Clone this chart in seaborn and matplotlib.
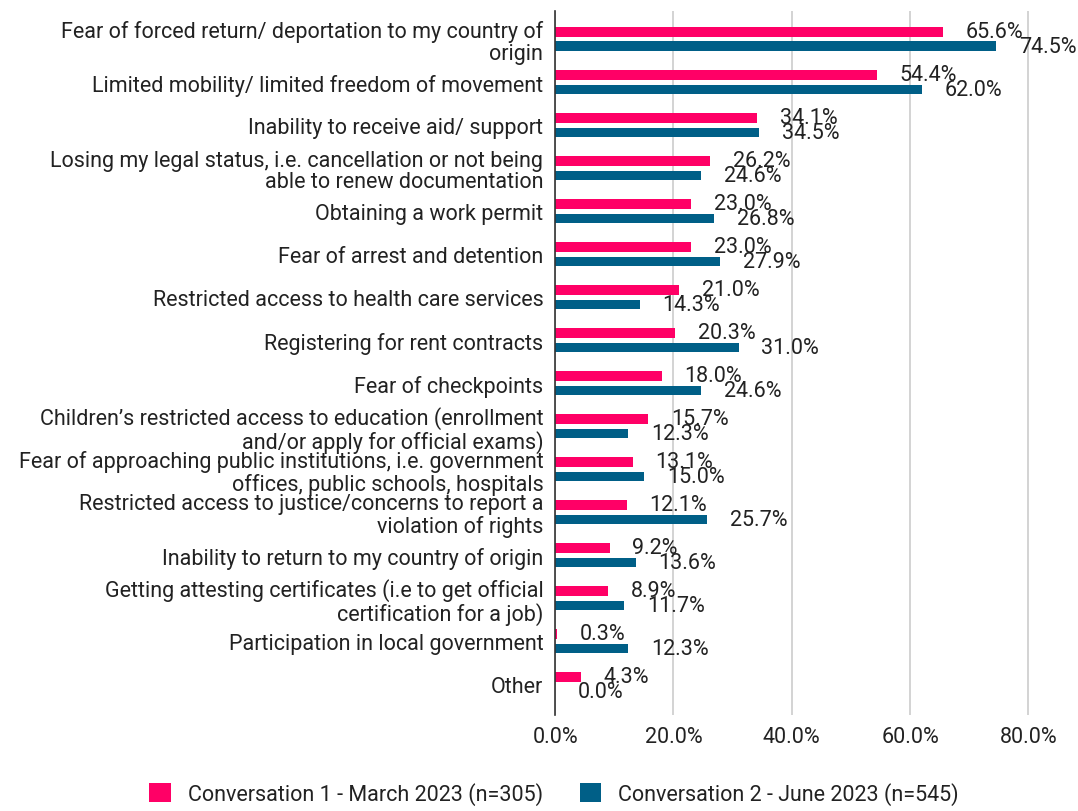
import matplotlib
matplotlib.use("Agg")
import matplotlib.pyplot as plt
from matplotlib.patches import Patch
import pandas as pd
import seaborn as sns

categories = [
    "Fear of forced return/ deportation to my country of\norigin",
    "Limited mobility/ limited freedom of movement",
    "Inability to receive aid/ support",
    "Losing my legal status, i.e. cancellation or not being\nable to renew documentation",
    "Obtaining a work permit",
    "Fear of arrest and detention",
    "Restricted access to health care services",
    "Registering for rent contracts",
    "Fear of checkpoints",
    "Children\u2019s restricted access to education (enrollment\nand/or apply for official exams)",
    "Fear of approaching public institutions, i.e. government\noffices, public schools, hospitals",
    "Restricted access to justice/concerns to report a\nviolation of rights",
    "Inability to return to my country of origin",
    "Getting attesting certificates (i.e to get official\ncertification for a job)",
    "Participation in local government",
    "Other",
]
series_names = [
    "Conversation 1 - March 2023 (n=305)",
    "Conversation 2 - June 2023 (n=545)",
]
conv1 = [65.6, 54.4, 34.1, 26.2, 23.0, 23.0, 21.0, 20.3, 18.0, 15.7, 13.1, 12.1, 9.2, 8.9, 0.3, 4.3]
conv2 = [74.5, 62.0, 34.5, 24.6, 26.8, 27.9, 14.3, 31.0, 24.6, 12.3, 15.0, 25.7, 13.6, 11.7, 12.3, 0.0]
colors = ["#FF0066", "#005F87"]

df = pd.DataFrame({
    "category": categories * 2,
    "value": conv1 + conv2,
    "series": [series_names[0]] * len(categories) + [series_names[1]] * len(categories),
})

sns.set_style("white")
plt.rcParams["font.family"] = ["Roboto", "DejaVu Sans"]
text_color = "#222222"
fs = 15.5

fig = plt.figure(figsize=(10.78, 8.12), dpi=100)
ax = fig.add_axes([0.515, 0.118, 0.485, 0.867])

sns.barplot(data=df, y="category", x="value", hue="series", order=categories,
            hue_order=series_names, palette=colors, width=0.68, orient="h",
            legend=False, ax=ax, saturation=1)

# thin the bars, keep their centres
bar_h = 0.23
for p in ax.patches:
    c = p.get_y() + p.get_height() / 2
    p.set_height(bar_h)
    p.set_y(c - bar_h / 2)
    p.set_linewidth(0)

# value labels
for p in ax.patches:
    w = p.get_width()
    ax.annotate(f"{w:.1f}%", (w, p.get_y() + p.get_height() / 2),
                xytext=(16.5, 0), textcoords="offset points",
                ha="left", va="center", fontsize=fs, color=text_color)

ax.set_xlim(0, 88.4)
ax.set_ylim(15.72, -0.65)
ax.set_xticks([0, 20, 40, 60, 80])
ax.set_xticklabels([f"{t:.1f}%" for t in [0, 20, 40, 60, 80]])
ax.xaxis.grid(True, color="#cccccc", linewidth=1.2)
ax.set_axisbelow(True)
for s in ["top", "right", "bottom"]:
    ax.spines[s].set_visible(False)
ax.spines["left"].set_color("#333333")
ax.spines["left"].set_linewidth(1.2)
ax.tick_params(axis="both", length=0, labelsize=fs, colors=text_color)
ax.tick_params(axis="y", pad=8.5)
ax.tick_params(axis="x", pad=8)
ax.set_xlabel("")
ax.set_ylabel("")
for lbl in ax.get_yticklabels():
    lbl.set_multialignment("right")
    lbl.set_linespacing(1.05)

handles = [Patch(facecolor=c, edgecolor="none") for c in colors]
fig.legend(handles, series_names, loc="lower center", bbox_to_anchor=(0.514, -0.016),
           ncol=2, frameon=False, fontsize=fs, handlelength=1.0, handleheight=1.0,
           handletextpad=0.8, columnspacing=1.7, labelcolor=text_color)

fig.savefig("out.png", dpi=100, facecolor="white")
